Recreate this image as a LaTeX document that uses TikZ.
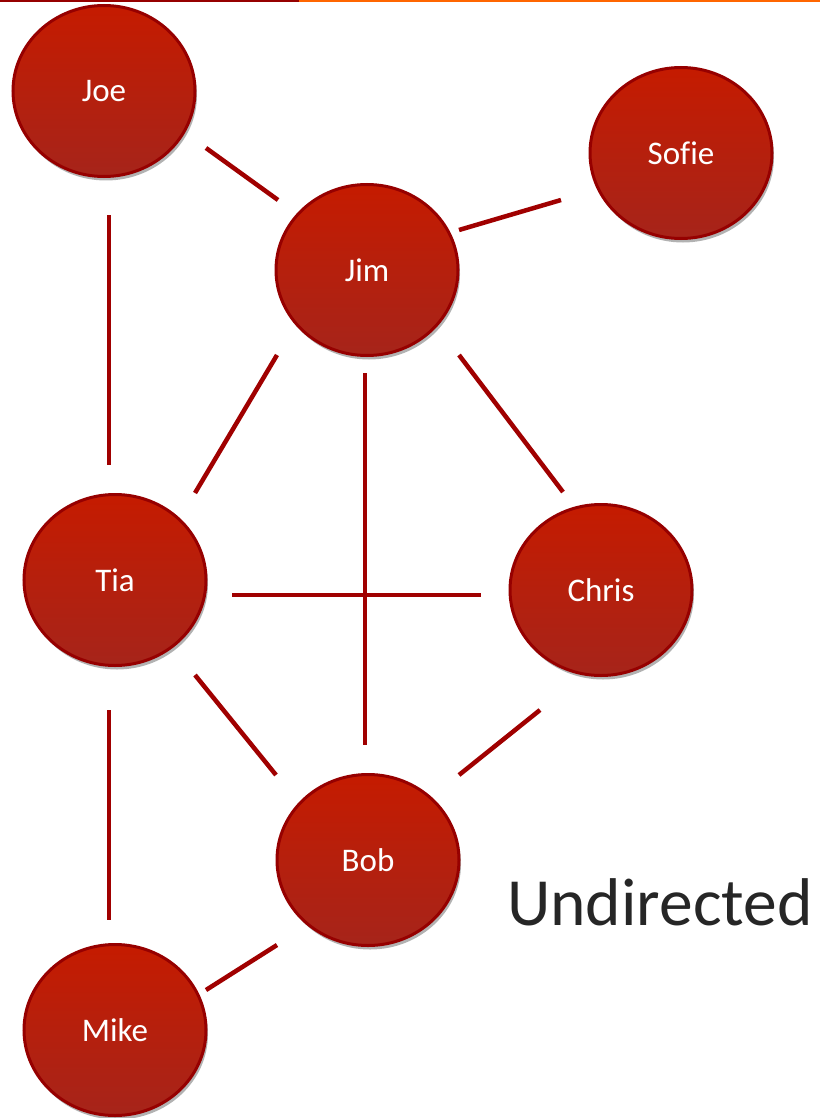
\documentclass[tikz,border=0pt]{standalone}
\usepackage{fontspec}
\setmainfont[Ligatures=NoCommon]{Carlito}
\usetikzlibrary{shapes.geometric,shadows}
\definecolor{edgered}{RGB}{160,0,0}
\definecolor{rimred}{RGB}{150,0,0}
\definecolor{topred}{RGB}{197,27,0}
\definecolor{botred}{RGB}{166,36,26}
\definecolor{darktext}{RGB}{38,38,38}
\definecolor{barred}{RGB}{150,0,0}
\definecolor{barorange}{RGB}{255,102,0}
\tikzset{
  person/.style={ellipse, inner sep=0pt, minimum width=182pt, minimum height=171pt,
    draw=rimred, line width=3pt, top color=topred, bottom color=botred,
    drop shadow={shadow xshift=2pt, shadow yshift=-4pt, opacity=0.3, fill=black},
    text=white, font=\fontsize{33}{36}\selectfont},
  link/.style={draw=edgered, line width=4.5pt}
}
\begin{document}
\begin{tikzpicture}[x=1pt,y=-1pt]
\useasboundingbox (0,0) rectangle (820,1118);
\clip (0,0) rectangle (820,1118);
\fill[barred] (0,0) rectangle (299,2.5);
\fill[barorange] (299,0) rectangle (820,2.5);

\node[person] (joe) at (104,91) {Joe};
\node[person] (jim) at (367,270) {Jim};
\node[person] (sofie) at (681,153) {Sofie};
\node[person] (tia) at (115,580) {Tia};
\node[person] (chris) at (601,590) {Chris};
\node[person] (bob) at (368,860) {Bob};
\node[person] (mike) at (115,1030) {Mike};

% connectors (gapped, as in the reference)
\coordinate (a1) at (206,148); \coordinate (a2) at (278,200);
\coordinate (b1) at (459,230); \coordinate (b2) at (561,200);
\coordinate (c1) at (109,215); \coordinate (c2) at (109,465);
\coordinate (d1) at (277,355); \coordinate (d2) at (195,493);
\coordinate (e1) at (365,373); \coordinate (e2) at (365,745);
\coordinate (f1) at (459,355); \coordinate (f2) at (563,492);
\coordinate (g1) at (232,595); \coordinate (g2) at (481,595);
\coordinate (h1) at (195,675); \coordinate (h2) at (276,775);
\coordinate (i1) at (540,710); \coordinate (i2) at (459,775);
\coordinate (j1) at (109,710); \coordinate (j2) at (109,920);
\coordinate (k1) at (277,945); \coordinate (k2) at (206,990);
\path[link] (a1) -- (a2);
\path[link] (b1) -- (b2);
\path[link] (c1) -- (c2);
\path[link] (d1) -- (d2);
\path[link] (e1) -- (e2);
\path[link] (f1) -- (f2);
\path[link] (g1) -- (g2);
\path[link] (h1) -- (h2);
\path[link] (i1) -- (i2);
\path[link] (j1) -- (j2);
\path[link] (k1) -- (k2);

\node[anchor=base west, inner sep=0pt, text=darktext, font=\fontsize{67.5}{78}\selectfont] (label) at (507,925) {Undirected};
\end{tikzpicture}
\end{document}
